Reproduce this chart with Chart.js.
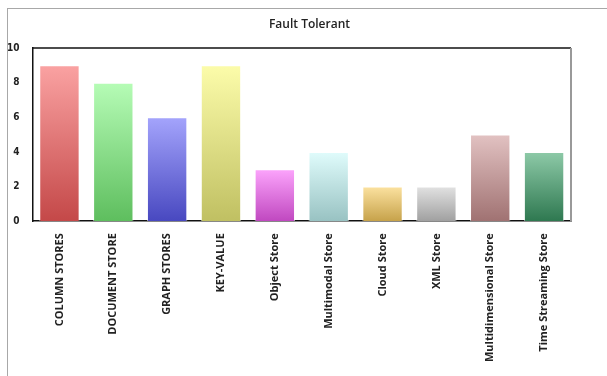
<!DOCTYPE html>
<html>
<head>
<meta charset="utf-8">
<script src="https://cdn.jsdelivr.net/npm/chart.js@4"></script>
<style>
  body { margin: 0; background: #fff; }
  #wrap { position: relative; width: 607px; height: 376px; }
  #frame { position: absolute; left: 7px; top: 8px; right: 0; bottom: 0;
           border-top: 1px solid #a8a8a8; border-left: 1px solid #a8a8a8; }
  canvas { position: absolute; left: 0; top: 0; }
</style>
</head>
<body>
<div id="wrap">
  <div id="frame"></div>
  <canvas id="faultChart" width="607" height="376"></canvas>
</div>
<script>
// カテゴリと値
const chartTitle = 'Fault Tolerant';
const categories = ['COLUMN STORES', 'DOCUMENT STORE', 'GRAPH STORES', 'KEY-VALUE', 'Object Store',
  'Multimodal Store', 'Cloud Store', 'XML Store', 'Multidimensional Store', 'Time Streaming Store'];
const values = [9, 8, 6, 9, 3, 4, 2, 2, 5, 4];
const topColors = ['#faa2a2', '#b6fcb6', '#a4a4fc', '#fcfcaa', '#fca4fc', '#e0fcfc', '#fce2a0', '#e2e2e2', '#e2c2c2', '#8ecaa8'];
const bottomColors = ['#c44848', '#5ebe5e', '#4848c0', '#c0c062', '#c048c0', '#98c2c2', '#c6a24a', '#a0a0a0', '#a07272', '#2e7850'];

// 棒ごとのグラデーション
function barGradient(ctx) {
  const chart = ctx.chart;
  const y = chart.scales.y;
  const i = ctx.dataIndex;
  if (i === undefined) return topColors[0];
  if (!y) return bottomColors[i];
  const top = y.getPixelForValue(values[i]);
  const bottom = y.getPixelForValue(0);
  if (!isFinite(top) || !isFinite(bottom) || top === bottom) return bottomColors[i];
  const g = chart.ctx.createLinearGradient(0, top, 0, bottom);
  g.addColorStop(0, topColors[i]);
  g.addColorStop(1, bottomColors[i]);
  return g;
}

// 上と右の枠線、タイトル
const frameLines = {
  id: 'frameLines',
  afterDraw(chart) {
    const a = chart.chartArea;
    const c = chart.ctx;
    c.save();
    c.lineWidth = 1.5;
    c.strokeStyle = '#111';
    c.beginPath();
    c.moveTo(a.left, a.top);
    c.lineTo(a.right, a.top);
    c.stroke();
    c.strokeStyle = '#999';
    c.lineWidth = 2;
    c.beginPath();
    c.moveTo(a.right, a.top);
    c.lineTo(a.right, a.bottom);
    c.stroke();
    // タイトル（全体の中央より少し右）
    c.fillStyle = '#222';
    c.font = '600 12px "Open Sans"';
    c.textAlign = 'center';
    c.textBaseline = 'middle';
    c.fillText(chartTitle, chart.width / 2 + 6, 25);
    c.restore();
  }
};

const chart = new Chart(document.getElementById('faultChart'), {
  type: 'bar',
  data: {
    labels: categories,
    datasets: [{
      data: values,
      backgroundColor: barGradient,
      borderColor: 'rgba(255,255,255,0.6)',
      borderWidth: 1,
      barPercentage: 0.75,
      categoryPercentage: 1
    }]
  },
  options: {
    responsive: false,
    animation: false,
    layout: { padding: { left: 2, right: 36, top: 48, bottom: 10 } },
    plugins: {
      legend: { display: false },
      tooltip: { enabled: false },
      title: { display: false }
    },
    scales: {
      x: {
        grid: { display: false },
        border: { display: true, color: '#111', width: 1.5 },
        ticks: {
          color: '#222',
          maxRotation: 90,
          minRotation: 90,
          padding: 4,
          font: { family: 'Open Sans', size: 11, weight: 'bold' }
        }
      },
      y: {
        min: 0,
        max: 10,
        grid: { display: false },
        border: { display: true, color: '#111', width: 1.5 },
        ticks: {
          stepSize: 2,
          color: '#222',
          padding: 5,
          font: { family: 'DejaVu Sans Condensed', size: 10, weight: 'bold' }
        }
      }
    }
  },
  plugins: [frameLines]
});
chart.update();
</script>
</body>
</html>
